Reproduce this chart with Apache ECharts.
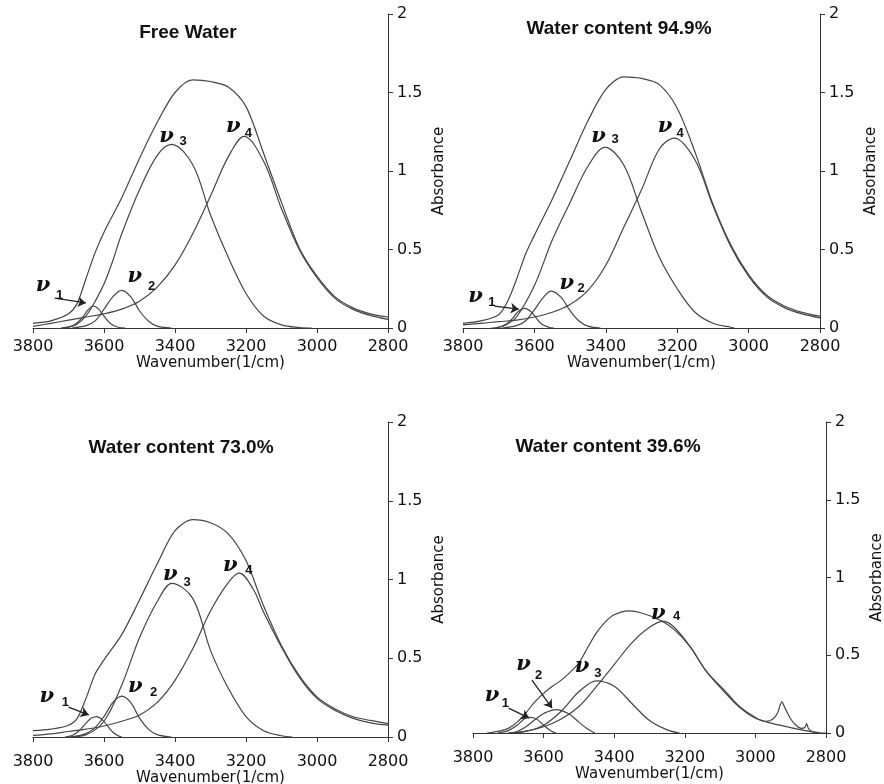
<!DOCTYPE html>
<html>
<head>
<meta charset="utf-8">
<script src="https://cdn.jsdelivr.net/npm/echarts@6/dist/echarts.min.js"></script>
<style>
  html, body { margin: 0; padding: 0; background: #fff; }
  #chart { width: 884px; height: 784px; }
</style>
</head>
<body>
<div id="chart"></div>
<script>
// axis ranges / ticks
const wavenumberRange = [2800, 3800]
const wavenumberStep = 200
const absorbanceTicks = [0, 0.5, 1, 1.5, 2]

const panelTitles = ['Free Water', 'Water content 94.9%', 'Water content 73.0%', 'Water content 39.6%']

// Free water
const fwTotal = [[3800,0.03],[3750,0.045],[3700,0.09],[3675,0.16],[3650,0.32],[3625,0.48],[3600,0.61],[3550,0.83],[3500,1.08],[3450,1.31],[3400,1.50],[3350,1.58],[3300,1.57],[3250,1.535],[3200,1.41],[3150,1.11],[3100,0.80],[3050,0.51],[3000,0.33],[2950,0.20],[2900,0.13],[2850,0.09],[2800,0.07]]
const fwNu1 = [[3720,0],[3700,0.005],[3680,0.025],[3660,0.07],[3645,0.115],[3630,0.14],[3615,0.12],[3600,0.075],[3580,0.025],[3560,0.005],[3540,0]]
const fwNu2 = [[3690,0],[3650,0.015],[3625,0.045],[3600,0.12],[3575,0.20],[3550,0.24],[3525,0.20],[3500,0.11],[3475,0.045],[3450,0.012],[3410,0]]
const fwNu3 = [[3720,0],[3680,0.02],[3650,0.08],[3620,0.19],[3600,0.28],[3575,0.43],[3550,0.60],[3500,0.88],[3450,1.10],[3410,1.17],[3350,1.04],[3300,0.72],[3250,0.45],[3200,0.22],[3150,0.075],[3100,0.02],[3050,0.003],[3015,0]]
const fwNu4 = [[3800,0.01],[3750,0.03],[3700,0.05],[3650,0.07],[3600,0.09],[3550,0.12],[3500,0.17],[3450,0.26],[3400,0.40],[3350,0.60],[3300,0.84],[3250,1.09],[3205,1.22],[3150,1.06],[3100,0.76],[3050,0.50],[3000,0.32],[2950,0.19],[2900,0.12],[2850,0.08],[2800,0.055]]
const fwNotes = [[3772,0.27,'ν'],[3725,0.21,'1'],[3513,0.33,'ν'],[3466,0.265,'2'],[3424,1.22,'ν'],[3377,1.19,'3'],[3236,1.28,'ν'],[3193,1.24,'4']]
const fwArrows = [[[3739,0.19],[3651,0.16]]]

// 94.9 %
const w949Total = [[3800,0.03],[3750,0.045],[3700,0.085],[3675,0.17],[3650,0.31],[3625,0.47],[3600,0.59],[3550,0.82],[3500,1.07],[3450,1.32],[3400,1.52],[3350,1.60],[3300,1.59],[3250,1.55],[3200,1.40],[3150,1.12],[3100,0.79],[3050,0.53],[3000,0.34],[2950,0.21],[2900,0.14],[2850,0.10],[2800,0.076]]
const w949Nu1 = [[3720,0],[3700,0.005],[3680,0.022],[3660,0.065],[3645,0.105],[3628,0.125],[3610,0.105],[3595,0.065],[3580,0.025],[3560,0.005],[3545,0]]
const w949Nu2 = [[3690,0],[3650,0.015],[3625,0.045],[3600,0.115],[3575,0.195],[3553,0.235],[3525,0.195],[3500,0.11],[3475,0.045],[3450,0.012],[3415,0]]
const w949Nu3 = [[3710,0],[3680,0.02],[3650,0.07],[3600,0.27],[3550,0.56],[3500,0.80],[3450,1.03],[3402,1.15],[3350,1.04],[3300,0.74],[3250,0.45],[3200,0.25],[3150,0.10],[3100,0.03],[3050,0.005],[3040,0]]
const w949Nu4 = [[3800,0.02],[3750,0.03],[3700,0.04],[3650,0.05],[3600,0.07],[3550,0.10],[3500,0.15],[3450,0.24],[3400,0.40],[3350,0.64],[3300,0.88],[3250,1.14],[3208,1.21],[3150,1.07],[3100,0.78],[3050,0.52],[3000,0.33],[2950,0.20],[2900,0.13],[2850,0.09],[2800,0.065]]
const w949Notes = [[3765,0.20,'ν'],[3719,0.163,'1'],[3509,0.28,'ν'],[3469,0.255,'2'],[3420,1.22,'ν'],[3374,1.20,'3'],[3234,1.28,'ν'],[3192,1.24,'4']]
const w949Arrows = [[[3712,0.14],[3644,0.12]]]

// 73.0 %
const w730Total = [[3800,0.04],[3750,0.05],[3700,0.075],[3675,0.12],[3650,0.25],[3625,0.40],[3600,0.49],[3550,0.65],[3500,0.87],[3450,1.10],[3400,1.31],[3350,1.38],[3300,1.36],[3250,1.29],[3200,1.12],[3150,0.83],[3100,0.58],[3050,0.39],[3000,0.255],[2950,0.18],[2900,0.13],[2850,0.105],[2800,0.085]]
const w730Nu1 = [[3710,0],[3690,0.01],[3670,0.04],[3650,0.09],[3635,0.12],[3621,0.13],[3605,0.11],[3590,0.07],[3575,0.03],[3560,0.008],[3550,0]]
const w730Nu2 = [[3695,0],[3660,0.015],[3630,0.05],[3600,0.13],[3575,0.22],[3550,0.26],[3525,0.22],[3500,0.12],[3475,0.05],[3450,0.015],[3410,0]]
const w730Nu3 = [[3700,0],[3650,0.015],[3600,0.10],[3550,0.33],[3500,0.63],[3450,0.86],[3409,0.975],[3350,0.88],[3300,0.55],[3250,0.31],[3200,0.13],[3150,0.04],[3100,0.008],[3070,0]]
const w730Nu4 = [[3800,0.01],[3750,0.02],[3700,0.035],[3650,0.05],[3600,0.07],[3550,0.10],[3500,0.14],[3450,0.22],[3400,0.36],[3350,0.56],[3300,0.80],[3250,0.98],[3219,1.04],[3180,0.94],[3150,0.79],[3100,0.57],[3050,0.38],[3000,0.245],[2950,0.17],[2900,0.12],[2850,0.09],[2800,0.075]]
const w730Notes = [[3761,0.26,'ν'],[3709,0.22,'1'],[3512,0.32,'ν'],[3460,0.28,'2'],[3413,1.03,'ν'],[3366,0.98,'3'],[3244,1.09,'ν'],[3192,1.06,'4']]
const w730Arrows = [[[3700,0.19],[3643,0.14]]]

// 39.6 %
const w396Total = [[3760,0],[3730,0.01],[3700,0.03],[3675,0.07],[3650,0.13],[3625,0.20],[3600,0.255],[3575,0.30],[3550,0.34],[3525,0.39],[3500,0.45],[3475,0.55],[3450,0.645],[3425,0.715],[3400,0.76],[3360,0.785],[3320,0.77],[3270,0.725],[3230,0.665],[3185,0.555],[3140,0.40],[3090,0.28],[3045,0.17],[3000,0.10],[2970,0.075],[2950,0.09],[2937,0.13],[2925,0.20],[2915,0.155],[2900,0.09],[2885,0.05],[2870,0.03],[2860,0.035],[2855,0.06],[2850,0.03],[2840,0.01],[2825,0],[2800,0]]
const w396Nu1 = [[3730,0],[3700,0.015],[3675,0.05],[3655,0.09],[3640,0.10],[3620,0.09],[3600,0.05],[3580,0.015],[3565,0]]
const w396Nu2 = [[3700,0],[3675,0.01],[3650,0.04],[3625,0.085],[3600,0.125],[3565,0.15],[3530,0.125],[3500,0.07],[3475,0.025],[3455,0]]
const w396Nu3 = [[3690,0],[3650,0.01],[3600,0.05],[3550,0.14],[3500,0.265],[3450,0.335],[3400,0.30],[3350,0.19],[3300,0.08],[3250,0.02],[3215,0]]
const w396Nu4 = [[3700,0],[3650,0.012],[3600,0.04],[3550,0.09],[3500,0.17],[3450,0.30],[3400,0.44],[3350,0.58],[3300,0.68],[3261,0.72],[3230,0.68],[3185,0.555],[3140,0.40],[3090,0.27],[3045,0.165],[3000,0.095],[2950,0.06],[2900,0.035],[2850,0.012],[2815,0]]
const w396Notes = [[3746,0.24,'ν'],[3708,0.19,'1'],[3657,0.44,'ν'],[3614,0.37,'2'],[3491,0.43,'ν'],[3446,0.385,'3'],[3275,0.77,'ν'],[3223,0.75,'4']]
const w396Arrows = [[[3699,0.16],[3641,0.096]],[[3633,0.34],[3576,0.16]]]

const panels = [
  { total: fwTotal, parts: [fwNu1, fwNu2, fwNu3, fwNu4], notes: fwNotes, arrows: fwArrows },
  { total: w949Total, parts: [w949Nu1, w949Nu2, w949Nu3, w949Nu4], notes: w949Notes, arrows: w949Arrows },
  { total: w730Total, parts: [w730Nu1, w730Nu2, w730Nu3, w730Nu4], notes: w730Notes, arrows: w730Arrows },
  { total: w396Total, parts: [w396Nu1, w396Nu2, w396Nu3, w396Nu4], notes: w396Notes, arrows: w396Arrows }
]

// pixel layout of the four plots
const layout = [
  { left: 33, top: 14, width: 355, height: 314, titleX: 183, titleY: 18, labelMargin: 11, nameGap: 23 },
  { left: 463, top: 14, width: 357, height: 314, titleX: 614, titleY: 14, labelMargin: 11, nameGap: 23 },
  { left: 33, top: 422, width: 355, height: 315, titleX: 176, titleY: 433, labelMargin: 17, nameGap: 29 },
  { left: 473, top: 422, width: 353, height: 311, titleX: 603, titleY: 432, labelMargin: 17, nameGap: 29 }
]

const INK = '#333'
const CURVE = '#454545'
const SANS = 'DejaVu Sans'

const nuLabel = { fontFamily: 'DejaVu Serif', fontStyle: 'italic', fontWeight: 'bold', fontSize: 21, color: '#111' }
const subLabel = { fontFamily: 'Liberation Sans', fontWeight: 'bold', fontSize: 13, color: '#111' }

const option = {
  animation: false,
  backgroundColor: '#fff',
  title: [],
  grid: [],
  xAxis: [],
  yAxis: [],
  series: []
}

panels.forEach((p, i) => {
  const L = layout[i]
  option.grid.push({ left: L.left, top: L.top, width: L.width, height: L.height, containLabel: false, outerBoundsMode: 'none' })
  option.title.push({
    text: panelTitles[i], left: L.titleX, top: L.titleY, textAlign: 'center',
    textStyle: { fontFamily: 'Liberation Sans', fontWeight: 'bold', fontSize: 19, color: '#111' }
  })
  option.xAxis.push({
    gridIndex: i, type: 'value', inverse: true,
    min: wavenumberRange[0], max: wavenumberRange[1], interval: wavenumberStep,
    name: 'Wavenumber(1/cm)', nameLocation: 'middle', nameGap: L.nameGap,
    nameTextStyle: { fontFamily: SANS, fontSize: 15, color: '#111' },
    axisLine: { onZero: false, lineStyle: { color: INK, width: 1 } },
    axisTick: { length: 5, lineStyle: { color: INK } },
    axisLabel: { fontFamily: SANS, fontSize: 16, color: '#111', margin: L.labelMargin, formatter: (v) => String(v) },
    splitLine: { show: false }
  })
  option.yAxis.push({
    gridIndex: i, type: 'value', position: 'right',
    min: absorbanceTicks[0], max: absorbanceTicks[absorbanceTicks.length - 1],
    interval: absorbanceTicks[1] - absorbanceTicks[0],
    name: 'Absorbance', nameLocation: 'middle', nameRotate: 90, nameGap: 44,
    nameTextStyle: { fontFamily: SANS, fontSize: 15, color: '#111' },
    axisLine: { show: true, lineStyle: { color: INK, width: 1 } },
    axisTick: { show: true, length: 5, lineStyle: { color: INK } },
    axisLabel: { fontFamily: SANS, fontSize: 16, color: '#111', margin: 9, formatter: (v) => String(v) },
    splitLine: { show: false }
  })

  const base = {
    type: 'line', xAxisIndex: i, yAxisIndex: i,
    showSymbol: false, symbol: 'none', smooth: 0.35,
    lineStyle: { color: CURVE, width: 1.2 },
    emphasis: { disabled: true }, silent: true
  }
  p.parts.forEach((d) => option.series.push(Object.assign({}, base, { data: d })))
  option.series.push(Object.assign({}, base, {
    data: p.total,
    smooth: 0.3,
    markPoint: {
      silent: true,
      symbol: 'circle', symbolSize: 1,
      itemStyle: { color: 'rgba(0,0,0,0)' },
      data: p.notes.map(([x, y, t]) => ({
        coord: [x, y],
        label: Object.assign({ show: true, position: 'inside', formatter: t }, t === 'ν' ? nuLabel : subLabel)
      }))
    },
    markLine: {
      silent: true,
      symbol: ['none', 'arrow'], symbolSize: 8,
      label: { show: false },
      lineStyle: { color: '#222', width: 1.3, type: 'solid' },
      data: p.arrows.map(([a, b]) => [{ coord: a }, { coord: b }])
    }
  }))
})

const chart = echarts.init(document.getElementById('chart'), null, { renderer: 'canvas' })
chart.setOption(option)
window.addEventListener('resize', () => chart.resize())
</script>
</body>
</html>
